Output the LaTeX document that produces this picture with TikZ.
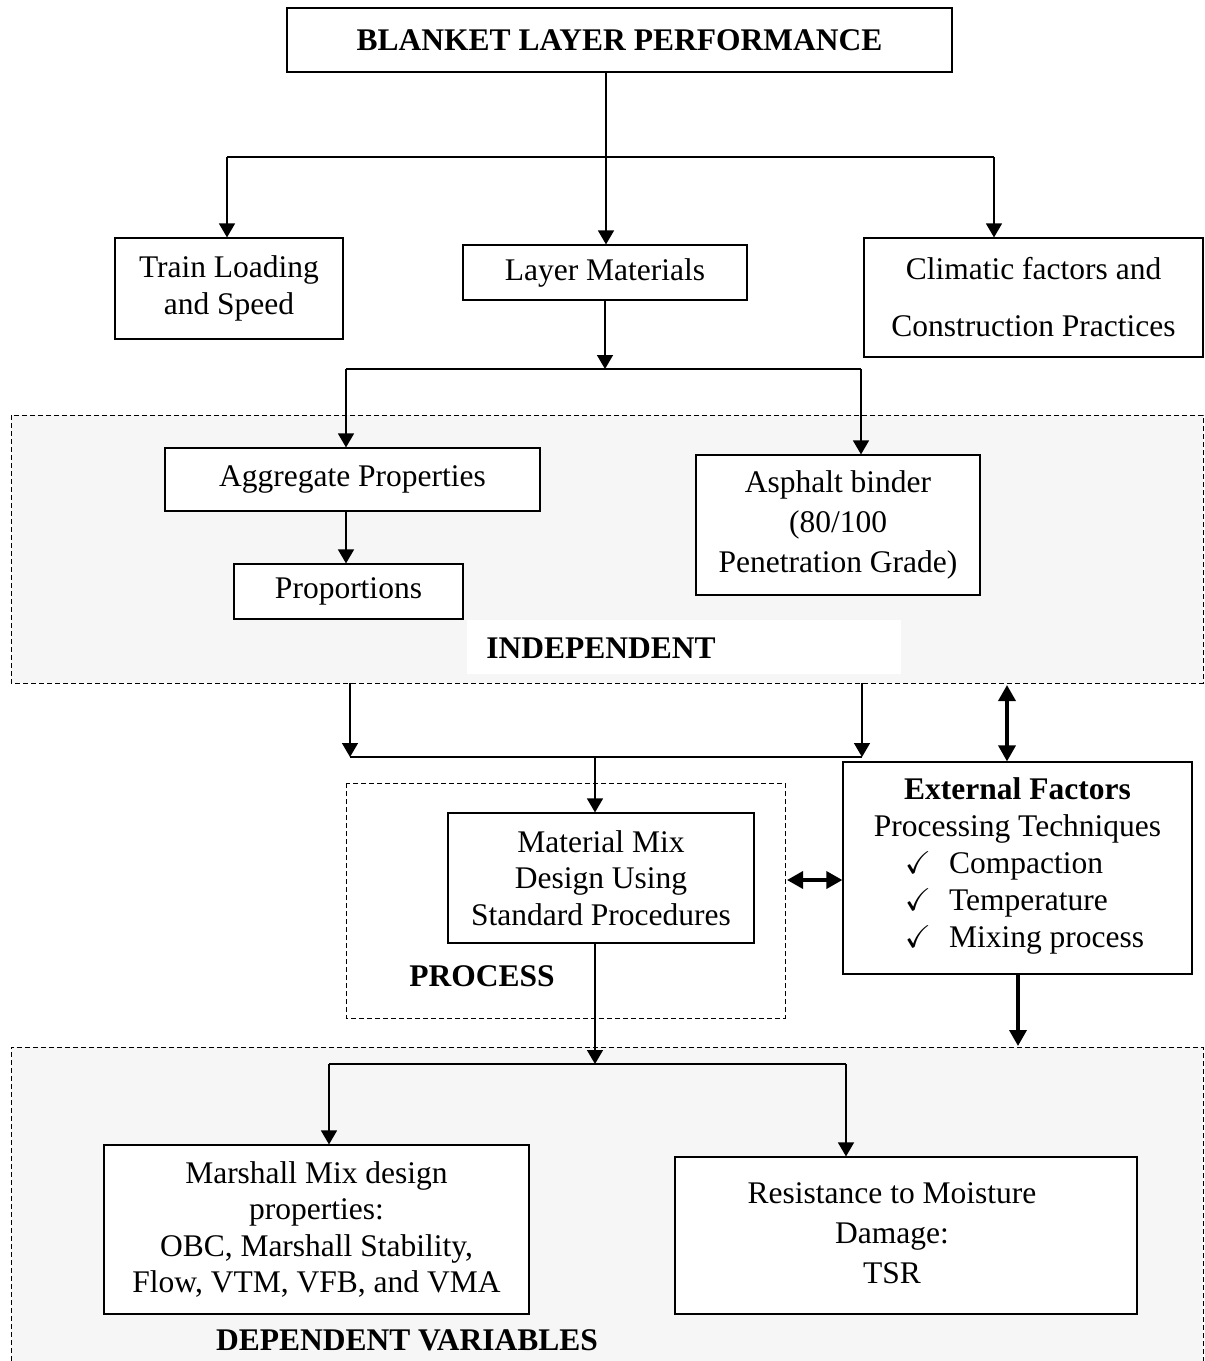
\documentclass[tikz,border=0pt]{standalone}
\usepackage{fontspec}
\setmainfont{Liberation Serif}
\usepackage{amssymb}
\usetikzlibrary{arrows.meta}
\definecolor{panelgray}{HTML}{F6F6F6}

\begin{document}
\begin{tikzpicture}[x=1pt, y=-1pt,
    box/.style={draw, line width=1.2pt, fill=white, align=center, inner sep=0pt,
                font=\fontsize{31.5}{36.5}\selectfont},
    tag/.style={font=\fontsize{31.5}{36}\selectfont\bfseries, inner sep=0pt},
    panel/.style={line width=1pt, dash pattern=on 5pt off 3pt},
    link/.style={line width=1.5pt},
    arr/.style={link, -{Triangle[length=14pt, width=16pt]}},
    bigarr/.style={line width=3.5pt, -{Triangle[length=16pt, width=17pt]}},
    bigboth/.style={line width=3.5pt,
                    {Triangle[length=16pt, width=17pt]}-{Triangle[length=16pt, width=17pt]}}]
  \useasboundingbox (0,0) rectangle (1205,1361);

  % shaded groups
  \fill[panelgray] (11,415) rectangle (1203,683);
  \draw[panel] (11,415) rectangle (1203,683);
  \fill[white] (467,620) rectangle (901,674);
  \node[tag] (indep) at (601,648) {INDEPENDENT};

  \fill[panelgray] (11,1047) rectangle (1203,1361);
  \draw[panel] (11,1361) -- (11,1047) -- (1203,1047) -- (1203,1361);
  \node[tag] (dep) at (407,1340) {DEPENDENT VARIABLES};

  \draw[panel] (346,783) rectangle (785,1018);
  \node[tag] (proc) at (482,976) {PROCESS};

  % boxes
  \node[box, minimum width=665pt, minimum height=64pt, font=\fontsize{31.5}{36}\selectfont\bfseries]
    (title) at (619.5,40) {BLANKET LAYER PERFORMANCE};
  \node[box, minimum width=228pt, minimum height=101pt] (train) at (229,288.5)
    {Train Loading\\and Speed};
  \node[box, minimum width=284pt, minimum height=55pt] (layer) at (605,272.5)
    {Layer Materials};
  \node[box, minimum width=339pt, minimum height=119pt, font=\fontsize{31.5}{57}\selectfont]
    (clim) at (1033.5,297.5) {Climatic factors and\\Construction Practices};
  \node[box, minimum width=375pt, minimum height=63pt] (aggr) at (352.5,479.5)
    {Aggregate Properties};
  \node[box, minimum width=229pt, minimum height=55pt] (prop) at (348.5,591.5)
    {Proportions};
  \node[box, minimum width=284pt, minimum height=140pt, font=\fontsize{31.5}{40}\selectfont]
    (asph) at (838,525) {Asphalt binder\\(80/100\\Penetration Grade)};
  \node[box, minimum width=306pt, minimum height=130pt] (mix) at (601,878)
    {Material Mix\\Design Using\\Standard Procedures};
  \node[box, minimum width=349pt, minimum height=212pt, font=\fontsize{31.5}{37}\selectfont]
    (ext) at (1017.5,868)
    {\textbf{External Factors}\\
     Processing Techniques\hspace*{15pt}\\
     \hspace*{14pt}\begin{tabular}[t]{@{}l@{\hspace{18pt}}l@{}}
       $\checkmark$ & Compaction\\
       $\checkmark$ & Temperature\\
       $\checkmark$ & Mixing process
     \end{tabular}};
  \node[box, minimum width=425pt, minimum height=169pt] (marsh) at (316.5,1229.5)
    {Marshall Mix design\\properties:\\OBC, Marshall Stability,\\Flow, VTM, VFB, and VMA};
  \node[box, minimum width=462pt, minimum height=157pt, font=\fontsize{31.5}{40}\selectfont]
    (resist) at (906,1235.5)
    {\begin{tabular}{@{}c@{}}Resistance to Moisture\\Damage:\\TSR\end{tabular}\hspace*{28pt}};

  % junctions
  \coordinate (j1) at (606,157);
  \coordinate (j1l) at (227,157);
  \coordinate (j1r) at (994,157);
  \coordinate (j2) at (605,369);
  \coordinate (j2l) at (346,369);
  \coordinate (j2r) at (861,369);
  \coordinate (p1a) at (350,683);
  \coordinate (p1b) at (862,683);
  \coordinate (j3) at (595,757);
  \coordinate (j3l) at (350,757);
  \coordinate (j3r) at (862,757);
  \coordinate (j4) at (595,1064);
  \coordinate (j4l) at (329,1064);
  \coordinate (j4r) at (846,1064);
  \coordinate (q1) at (1007,685);
  \coordinate (q2) at (787,880);
  \coordinate (q3) at (1018,1046);

  % connectors
  \draw[link] (title.south -| j1) -- (j1);
  \draw[link] (j1l) -- (j1r);
  \draw[arr] (j1l) -- (train.north -| j1l);
  \draw[arr] (j1) -- (layer.north -| j1);
  \draw[arr] (j1r) -- (clim.north -| j1r);

  \draw[arr] (layer.south) -- (j2);
  \draw[link] (j2l) -- (j2r);
  \draw[arr] (j2l) -- (aggr.north -| j2l);
  \draw[arr] (j2r) -- (asph.north -| j2r);
  \draw[arr] (aggr.south -| j2l) -- (prop.north -| j2l);

  \draw[arr] (p1a) -- (j3l);
  \draw[arr] (p1b) -- (j3r);
  \draw[link] (j3l) -- (j3r);
  \draw[arr] (j3) -- (mix.north -| j3);

  \draw[bigboth] (q1) -- (ext.north -| q1);
  \draw[bigboth] (q2) -- (ext.west |- q2);
  \draw[bigarr] (ext.south -| q3) -- (q3);

  \draw[arr] (mix.south -| j4) -- (j4);
  \draw[link] (j4l) -- (j4r);
  \draw[arr] (j4l) -- (marsh.north -| j4l);
  \draw[arr] (j4r) -- (resist.north -| j4r);
\end{tikzpicture}
\end{document}
